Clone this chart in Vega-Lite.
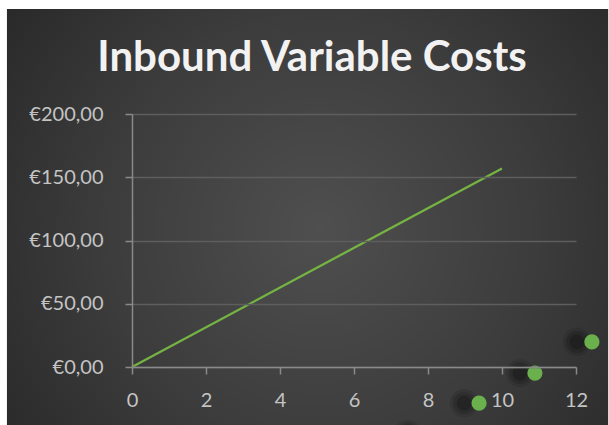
{
  "$schema": "https://vega.github.io/schema/vega-lite/v6.json",
  "width": 444,
  "height": 253,
  "autosize": {"type": "none"},
  "padding": {"left": 132, "top": 114, "right": 33, "bottom": 58},
  "background": "#ffffff",
  "title": {
    "text": "Inbound Variable Costs",
    "font": "Lato",
    "fontSize": 42,
    "fontWeight": "bold",
    "color": "#f2f2f2",
    "anchor": "middle",
    "frame": "group",
    "baseline": "alphabetic",
    "dx": -42,
    "offset": -104
  },
  "config": {
    "view": {"stroke": null},
    "axis": {
      "labelFont": "Lato",
      "labelFontSize": 20,
      "labelColor": "#c4c4c4",
      "labelFlush": false,
      "labelOverlap": false,
      "domainColor": "#8a8a8a",
      "tickColor": "#8a8a8a",
      "domainWidth": 1.5,
      "tickWidth": 1.5,
      "tickSize": 7,
      "gridColor": "#5e5e5e",
      "gridWidth": 1.3
    }
  },
  "datasets": {
    "costs": [
      {"units": 0, "cost": 0},
      {"units": 10, "cost": 157}
    ],
    "markers": [
      {"units": 7.86, "cost": -53},
      {"units": 9.38, "cost": -28.6},
      {"units": 10.89, "cost": -4.8},
      {"units": 12.43, "cost": 19.8}
    ]
  },
  "layer": [
    {
      "data": {"values": [{}]},
      "mark": {
        "type": "rect",
        "fill": {
          "gradient": "radial",
          "x1": 0.52, "y1": 0.52, "r1": 0,
          "x2": 0.52, "y2": 0.52, "r2": 0.72,
          "stops": [
            {"offset": 0, "color": "#4f4f4f"},
            {"offset": 0.5, "color": "#3c3c3c"},
            {"offset": 1, "color": "#242424"}
          ]
        }
      },
      "encoding": {
        "x": {
          "datum": -3.38,
          "type": "quantitative",
          "scale": {"domain": [0, 12], "nice": false, "zero": false},
          "axis": {
            "title": null,
            "values": [0, 2, 4, 6, 8, 10, 12],
            "grid": false,
            "labelPadding": 16,
            "zindex": 1
          }
        },
        "x2": {"datum": 12.87},
        "y": {
          "datum": -46,
          "type": "quantitative",
          "scale": {"domain": [0, 200], "nice": false, "zero": false},
          "axis": {
            "title": null,
            "values": [0, 50, 100, 150, 200],
            "grid": true,
            "labelPadding": 22,
            "zindex": 1,
            "labelExpr": "'€' + replace(format(datum.value, '.2f'), '.', ',')"
          }
        },
        "y2": {"datum": 283}
      }
    },
    {
      "data": {"name": "costs"},
      "mark": {"type": "line", "color": "#75b443", "strokeWidth": 2.3},
      "encoding": {
        "x": {"field": "units", "type": "quantitative"},
        "y": {"field": "cost", "type": "quantitative"}
      }
    },
    {
      "data": {"name": "markers"},
      "mark": {"type": "circle", "color": "#000000", "opacity": 0.1, "size": 800, "xOffset": -15},
      "encoding": {
        "x": {"field": "units", "type": "quantitative"},
        "y": {"field": "cost", "type": "quantitative"}
      }
    },
    {
      "data": {"name": "markers"},
      "mark": {"type": "circle", "color": "#000000", "opacity": 0.15, "size": 480, "xOffset": -15},
      "encoding": {
        "x": {"field": "units", "type": "quantitative"},
        "y": {"field": "cost", "type": "quantitative"}
      }
    },
    {
      "data": {"name": "markers"},
      "mark": {"type": "circle", "color": "#000000", "opacity": 0.2, "size": 220, "xOffset": -15},
      "encoding": {
        "x": {"field": "units", "type": "quantitative"},
        "y": {"field": "cost", "type": "quantitative"}
      }
    },
    {
      "data": {"name": "markers"},
      "mark": {"type": "circle", "color": "#6ab04c", "opacity": 1, "size": 230},
      "encoding": {
        "x": {"field": "units", "type": "quantitative"},
        "y": {"field": "cost", "type": "quantitative"}
      }
    }
  ]
}
